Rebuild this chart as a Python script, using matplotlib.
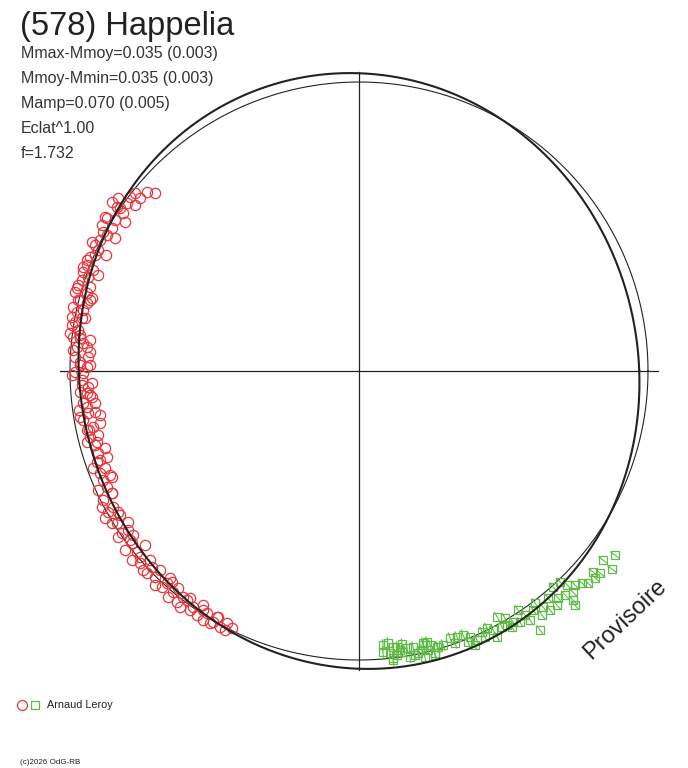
import numpy as np
import matplotlib
matplotlib.use("Agg")
import matplotlib.pyplot as plt
from matplotlib.collections import LineCollection

plt.rcParams['font.family'] = ['Liberation Sans', 'DejaVu Sans']

# ---------------- data ----------------
title = "(578) Happelia"
info_lines = ["Mmax-Mmoy=0.035 (0.003)", "Mmoy-Mmin=0.035 (0.003)",
              "Mamp=0.070 (0.005)", "Eclat^1.00", "f=1.732"]
observer = "Arnaud Leroy"
credit = "(c)2026 OdG-RB"
stamp = "Provisoire"

# fit parameters (half amplitude, orientation in degrees)
fit_half_amp = 0.035
fit_phase_deg = 105.0

# session 1 (red circles): positions in normalised polar-diagram units
red_x = [-0.706, -0.734, -0.758, -0.792, -0.834, -0.837, -0.817, -0.872, -0.855, -0.886,
         -0.896, -0.913, -0.903, -0.931, -0.941, -0.920, -0.955, -0.972, -0.983, -0.941,
         -0.924, -0.990, -0.955, -0.993, -0.993, -1.000, -0.955, -0.941, -0.938, -0.983,
         -0.983, -0.955, -0.924, -0.941, -0.913, -0.941, -0.913, -0.955, -0.920, -0.931,
         -0.879, -0.903, -0.920, -0.879, -0.886, -0.872, -0.886, -0.851, -0.879, -0.837,
         -0.820, -0.782, -0.810, -0.768, -0.758, -0.734, -0.706, -0.682, -0.664, -0.644,
         -0.609, -0.619, -0.574, -0.561, -0.526, -0.505, -0.464, -0.439,
         -0.775, -0.810, -0.844, -0.875, -0.903, -0.931, -0.948, -0.965, -0.931, -0.965,
         -0.931, -0.958, -0.931, -0.896, -0.934, -0.907, -0.896, -0.862, -0.855, -0.834,
         -0.799, -0.792, -0.740, -0.723, -0.689, -0.654, -0.626, -0.585, -0.540, -0.488,
         -0.972, -0.990, -0.969,
         -0.775, -0.803, -0.855, -0.827, -0.879, -0.844, -0.889, -0.872, -0.924, -0.913,
         -0.941, -0.955, -0.938, -0.958, -0.976, -0.931, -0.965, -0.941, -0.976, -0.958,
         -0.983, -0.972, -0.990, -0.965, -0.931, -0.976, -0.965, -0.941, -0.993, -0.958,
         -0.938, -0.965, -0.924, -0.955, -0.938, -0.965, -0.896, -0.941, -0.903, -0.941,
         -0.913, -0.872, -0.907, -0.896, -0.855, -0.903, -0.855, -0.889, -0.869, -0.827,
         -0.855, -0.799, -0.834, -0.785, -0.758, -0.785, -0.716, -0.747, -0.706, -0.647,
         -0.661, -0.595, -0.630, -0.585, -0.540, -0.540, -0.491, -0.481, -0.457, -0.516]
red_y = [0.616, 0.619, 0.599, 0.602, 0.599, 0.567, 0.547, 0.529, 0.495, 0.481,
         0.453, 0.436, 0.419, 0.394, 0.367, 0.349, 0.343, 0.298, 0.273, 0.270,
         0.253, 0.221, 0.211, 0.187, 0.159, 0.131, 0.097, 0.083, 0.048, 0.048,
         -0.003, -0.007, -0.042, -0.076, -0.111, -0.125, -0.142, -0.170, -0.194, -0.228,
         -0.266, -0.284, -0.336, -0.336, -0.377, -0.401, -0.446, -0.471, -0.509, -0.526,
         -0.561, -0.567, -0.619, -0.626, -0.664, -0.699, -0.713, -0.747, -0.734, -0.765,
         -0.782, -0.817, -0.817, -0.844, -0.837, -0.869, -0.896, -0.889,
         0.574, 0.516, 0.460, 0.401, 0.332, 0.246, 0.183, 0.125, 0.107, 0.021,
         0.021, -0.048, -0.083, -0.152, -0.204, -0.246, -0.308, -0.360, -0.422, -0.488,
         -0.522, -0.585, -0.602, -0.654, -0.689, -0.716, -0.751, -0.785, -0.810, -0.851,
         0.246, 0.073, -0.135,
         0.616, 0.581, 0.585, 0.564, 0.533, 0.522, 0.505, 0.471, 0.446, 0.401,
         0.384, 0.360, 0.325, 0.315, 0.287, 0.291, 0.246, 0.235, 0.204, 0.183,
         0.170, 0.142, 0.118, 0.114, 0.066, 0.083, 0.031, 0.014, -0.014, -0.031,
         -0.055, -0.073, -0.090, -0.111, -0.145, -0.159, -0.180, -0.204, -0.221, -0.246,
         -0.256, -0.298, -0.315, -0.353, -0.367, -0.412, -0.422, -0.471, -0.488, -0.498,
         -0.526, -0.550, -0.574, -0.595, -0.644, -0.654, -0.678, -0.689, -0.740, -0.730,
         -0.782, -0.792, -0.799, -0.827, -0.827, -0.862, -0.851, -0.886, -0.872, -0.872]

# session 2 (green squares)
green_x = [0.886, 0.844, 0.875, 0.810, 0.834, 0.817, 0.696, 0.671, 0.720, 0.747,
           0.772, 0.792, 0.740, 0.689, 0.740, 0.747, 0.637, 0.661, 0.685, 0.602,
           0.550, 0.633, 0.592, 0.557, 0.533, 0.626, 0.478, 0.495, 0.512, 0.529,
           0.443, 0.478, 0.436, 0.408, 0.384, 0.360, 0.339, 0.315, 0.401, 0.291,
           0.273, 0.246, 0.221, 0.218, 0.187, 0.166, 0.142, 0.118, 0.100, 0.083,
           0.107, 0.131, 0.176, 0.228, 0.263, 0.118,
           0.332, 0.377, 0.426, 0.464, 0.505, 0.574, 0.609, 0.713, 0.654, 0.194, 0.149,
           0.083, 0.131, 0.118, 0.149, 0.204, 0.221, 0.235, 0.239, 0.263, 0.270]
green_y = [-0.637, -0.654, -0.685, -0.696, -0.699, -0.716, -0.730, -0.747, -0.740, -0.740,
           -0.734, -0.734, -0.765, -0.785, -0.792, -0.810, -0.817, -0.827, -0.810, -0.827,
           -0.827, -0.844, -0.862, -0.869, -0.869, -0.896, -0.851, -0.886, -0.879, -0.886,
           -0.889, -0.920, -0.920, -0.931, -0.920, -0.913, -0.920, -0.924, -0.948, -0.948,
           -0.955, -0.948, -0.941, -0.965, -0.955, -0.958, -0.965, -0.955, -0.941, -0.972,
           -0.976, -0.983, -0.990, -0.990, -0.983, -1.000,
           -0.941, -0.938, -0.903, -0.896, -0.855, -0.844, -0.803, -0.775, -0.785, -0.983, -0.945,
           -0.948, -0.955, -0.993, -0.972, -0.976, -0.948, -0.938, -0.965, -0.976, -0.955]
green_err = 0.02

# ---------------- figure ----------------
W, H = 688, 768
CX, CY, SC = 359.0, 371.0, 289.0   # pixel centre and scale of unit circle

fig = plt.figure(figsize=(W / 100, H / 100), dpi=100)
ax = fig.add_axes([0, 0, 1, 1])
ax.set_xlim(-CX / SC, (W - CX) / SC)
ax.set_ylim((CY - H) / SC, CY / SC)
ax.axis('off')

def px(x, y):
    return (x / W, 1 - y / H)

dark = '#222222'
red = '#e8363c'
green = '#5fba46'

# cross
L = 1.033
ax.plot([-L, L], [0, 0], color=dark, lw=0.9, zorder=1)
ax.plot([0, 0], [-L, L], color=dark, lw=0.9, zorder=1)

# unit circle
t = np.linspace(0, 2 * np.pi, 721)
ax.plot(np.cos(t), np.sin(t), color=dark, lw=0.8, zorder=1)

# fitted curve
r_fit = 1 + fit_half_amp * np.cos(2 * (t - np.radians(fit_phase_deg)))
ax.plot(r_fit * np.cos(t), r_fit * np.sin(t), color=dark, lw=1.5, zorder=4)

# green radial error bars
gx = np.array(green_x); gy = np.array(green_y)
gr = np.hypot(gx, gy)
ux, uy = gx / gr, gy / gr
segs = [[(x - green_err * a, y - green_err * b), (x + green_err * a, y + green_err * b)]
        for x, y, a, b in zip(gx, gy, ux, uy)]
ax.add_collection(LineCollection(segs, colors=green, linewidths=0.8, zorder=3))

ax.plot(red_x, red_y, 'o', ms=7.4, mfc='none', mec=red, mew=0.9, zorder=3)
ax.plot(green_x, green_y, 's', ms=6.0, mfc='none', mec=green, mew=0.9, zorder=3)

# texts
fig.text(*px(20, 35), title, fontsize=23.5, color=dark, ha='left', va='baseline')
for i, s in enumerate(info_lines):
    fig.text(*px(21, 58.3 + 25 * i), s, fontsize=11.5, color='#333333',
             ha='left', va='baseline')

fig.text(*px(625, 619), stamp, fontsize=17, color=dark, rotation=43.5,
         ha='center', va='center', rotation_mode='anchor')

# legend
fig.lines.append(plt.Line2D([22 / W], [1 - 705 / H], marker='o', ms=7.2, mfc='none',
                            mec=red, mew=0.9, transform=fig.transFigure))
fig.lines.append(plt.Line2D([35 / W], [1 - 705 / H], marker='s', ms=5.4, mfc='none',
                            mec=green, mew=0.9, transform=fig.transFigure))
fig.text(*px(47, 705), observer, fontsize=7.8, color=dark, ha='left', va='center')
fig.text(*px(20, 763), credit, fontsize=5.8, color=dark, ha='left', va='center')

fig.savefig('out.png', dpi=100, facecolor='white')
